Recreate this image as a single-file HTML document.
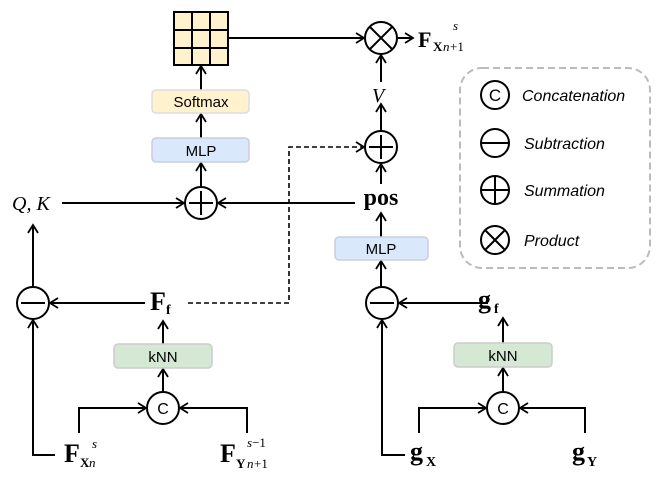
<!DOCTYPE html>
<html><head><meta charset="utf-8"><style>
html,body{margin:0;padding:0;background:#fff;}
svg{display:block;}
.s{font-family:"Liberation Sans",sans-serif;}
.r{font-family:"Liberation Serif",serif;}
</style></head><body>
<svg width="664" height="489" viewBox="0 0 664 489" xmlns="http://www.w3.org/2000/svg">
<defs>
<marker id="a" markerWidth="12" markerHeight="12" refX="10" refY="6" orient="auto" markerUnits="userSpaceOnUse">
<polyline points="2,1 10,6 2,11" fill="none" stroke="#000" stroke-width="1.8"/>
</marker>
</defs>
<g stroke="#000" stroke-width="2" fill="none">
<!-- grid -->
<rect x="174" y="12" width="54" height="53" fill="#fff2cc" stroke="none"/>
<path d="M174 12H228V65H174Z M192 12V65 M210 12V65 M174 30H228 M174 48H228"/>
<line x1="228" y1="38" x2="364" y2="38" marker-end="url(#a)"/>
<line x1="398" y1="38" x2="413" y2="38" marker-end="url(#a)"/>
<line x1="201" y1="90" x2="201" y2="66" marker-end="url(#a)"/>
<line x1="201" y1="138" x2="201" y2="114" marker-end="url(#a)"/>
<line x1="201" y1="187" x2="201" y2="163" marker-end="url(#a)"/>
<line x1="62" y1="203" x2="184" y2="203" marker-end="url(#a)"/>
<line x1="355" y1="203" x2="218" y2="203" marker-end="url(#a)"/>
<line x1="33" y1="287" x2="33" y2="225" marker-end="url(#a)"/>
<line x1="145" y1="303" x2="50" y2="303" marker-end="url(#a)"/>
<line x1="163" y1="344" x2="163" y2="321" marker-end="url(#a)"/>
<line x1="163" y1="392" x2="163" y2="369" marker-end="url(#a)"/>
<polyline points="55,455 33,455 33,320" marker-end="url(#a)"/>
<polyline points="79,433 79,408 146,408" marker-end="url(#a)"/>
<polyline points="247,433 247,408 180,408" marker-end="url(#a)"/>
<polyline points="188,303 289,303 289,147 364,147" stroke-dasharray="5,3" stroke-width="1.6" marker-end="url(#a)"/>
<!-- right column -->
<line x1="381" y1="82" x2="381" y2="55" marker-end="url(#a)"/>
<line x1="381" y1="131" x2="381" y2="104" marker-end="url(#a)"/>
<line x1="381" y1="184" x2="381" y2="164" marker-end="url(#a)"/>
<line x1="381" y1="237" x2="381" y2="213" marker-end="url(#a)"/>
<line x1="381" y1="287" x2="381" y2="261" marker-end="url(#a)"/>
<line x1="488" y1="303" x2="399" y2="303" marker-end="url(#a)"/>
<line x1="503" y1="343" x2="503" y2="318" marker-end="url(#a)"/>
<line x1="503" y1="392" x2="503" y2="368" marker-end="url(#a)"/>
<polyline points="405,455 382,455 382,320" marker-end="url(#a)"/>
<polyline points="419,433 419,408 486,408" marker-end="url(#a)"/>
<polyline points="585,433 585,408 520,408" marker-end="url(#a)"/>
<!-- circles -->
<circle cx="381" cy="38" r="16"/><path d="M370 27L392 49M392 27L370 49"/>
<circle cx="381" cy="147" r="16"/><path d="M369 147H393M381 135V159"/>
<circle cx="201" cy="203" r="16"/><path d="M189 203H213M201 191V215"/>
<circle cx="33" cy="303" r="16"/><path d="M21 303H45"/>
<circle cx="382" cy="303" r="16"/><path d="M370 303H394"/>
<circle cx="163" cy="408" r="16"/>
<circle cx="503" cy="408" r="16"/>
<!-- legend -->
<rect x="460" y="68" width="190" height="200" rx="22" stroke="#bbb" stroke-width="2" stroke-dasharray="7,4"/>
<circle cx="495" cy="95" r="14"/>
<circle cx="495" cy="143" r="14"/><path d="M482 143H508"/>
<circle cx="495" cy="190" r="14"/><path d="M482 190H508M495 177V203"/>
<circle cx="495" cy="240" r="14"/><path d="M485 230L505 250M505 230L485 250"/>
</g>
<!-- boxes -->
<rect x="152" y="90" width="97" height="23" rx="4" fill="#fff2cc" stroke="#ddd" stroke-width="1.5"/>
<rect x="152" y="138" width="97" height="24" rx="4" fill="#dae8fc" stroke="#ccd" stroke-width="1.5"/>
<rect x="335" y="237" width="93" height="23" rx="4" fill="#dae8fc" stroke="#ccd" stroke-width="1.5"/>
<rect x="114" y="344" width="98" height="24" rx="4" fill="#d5e8d4" stroke="#ccc" stroke-width="1.5"/>
<rect x="454" y="343" width="98" height="24" rx="4" fill="#d5e8d4" stroke="#ccc" stroke-width="1.5"/>
<g class="s" font-size="15" text-anchor="middle">
<text x="201" y="107">Softmax</text>
<text x="201" y="156">MLP</text>
<text x="381" y="254">MLP</text>
<text x="163" y="362">kNN</text>
<text x="503" y="361">kNN</text>
<text x="163" y="414" font-size="16">C</text>
<text x="503" y="414" font-size="16">C</text>
<text x="495" y="101" font-size="17">C</text>
</g>
<g class="s" font-size="16" font-style="italic">
<text x="522" y="101">Concatenation</text>
<text x="524" y="149">Subtraction</text>
<text x="524" y="196">Summation</text>
<text x="524" y="246">Product</text>
</g>
<g class="r">
<text x="12" y="210" font-size="20" font-style="italic">Q, K</text>
<text x="372" y="102" font-size="20" font-style="italic">V</text>
<text x="381" y="205" font-size="24" font-weight="bold" text-anchor="middle">pos</text>
<text x="418" y="47" font-size="22" font-weight="bold">F</text>
<text x="433" y="51" font-size="13" font-weight="bold">X</text><text x="443" y="51" font-size="13" font-style="italic">n</text><text x="450" y="51" font-size="13">+1</text>
<text x="453" y="30" font-size="13" font-style="italic">s</text>
<text x="150" y="310" font-size="26" font-weight="bold">F</text>
<text x="166" y="314" font-size="14" font-weight="bold">f</text>
<text x="478" y="308" font-size="26" font-weight="bold">g</text>
<text x="494" y="313" font-size="14" font-weight="bold">f</text>
<text x="64" y="462" font-size="26" font-weight="bold">F</text>
<text x="80" y="467" font-size="13" font-weight="bold">X</text><text x="89" y="467" font-size="13" font-style="italic">n</text>
<text x="92" y="448" font-size="13" font-style="italic">s</text>
<text x="220" y="462" font-size="26" font-weight="bold">F</text>
<text x="236" y="468" font-size="13" font-weight="bold">Y</text><text x="247" y="468" font-size="13" font-style="italic">n</text><text x="254" y="468" font-size="13">+1</text>
<text x="247" y="447" font-size="13"><tspan font-style="italic">s</tspan>−1</text>
<text x="410" y="460" font-size="26" font-weight="bold">g</text>
<text x="426" y="466" font-size="14" font-weight="bold">X</text>
<text x="572" y="460" font-size="26" font-weight="bold">g</text>
<text x="587" y="466" font-size="14" font-weight="bold">Y</text>
</g>
</svg>
</body></html>
